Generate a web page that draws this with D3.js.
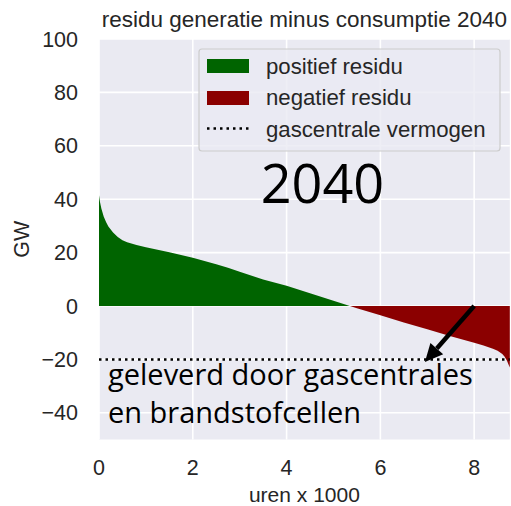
<html>
<head>
  <style>
    body { margin: 0; background: #fff; }
  </style>
</head>
<body>
<script src="https://d3js.org/d3.v7.min.js"></script>
<script>
// uren x 1000, gesorteerd residu (GW)
var hours = [0, 0.02, 0.05, 0.1, 0.15, 0.2, 0.3, 0.4, 0.5, 0.6, 0.8, 1.0, 1.5, 2.0, 2.5, 2.75, 3.0, 3.5, 4.0, 4.5, 5.0, 5.35,
             5.5, 6.0, 6.5, 7.0, 7.5, 8.0, 8.2, 8.4, 8.5, 8.6, 8.65, 8.7, 8.73, 8.76];
var residu = [41.5, 39, 36.5, 33.5, 31.5, 29.8, 27.5, 25.8, 24.6, 23.9, 22.8, 22.0, 20.1, 18.1, 15.6, 14.3, 12.8, 9.9, 7.6, 4.8, 2.0, 0,
              -0.8, -3.5, -6.2, -8.7, -11.3, -13.8, -14.8, -16.0, -16.8, -18.0, -19.0, -20.5, -21.8, -23];
var gasCapacity = -20;
var xTicks = [0, 2, 4, 6, 8];
var yTicks = [-40, -20, 0, 20, 40, 60, 80, 100];
var legendLabels = ["positief residu", "negatief residu", "gascentrale vermogen"];
var arrowFrom = [8.0, 0];
var arrowTo = [6.95, -21];

var width = 511, height = 506;
var plotLeft = 99, plotRight = 509.8, plotTop = 39, plotBottom = 439.5;
var textColor = '#262626';

var svg = d3.select('body').append('svg')
  .attr('width', width).attr('height', height)
  .style('font-family', '"Liberation Sans", Arial, sans-serif');

var x = d3.scaleLinear().domain([0, 8.76]).range([plotLeft, plotRight]);
var y = d3.scaleLinear().domain([-50, 100]).range([plotBottom, plotTop]);

// background
svg.append('rect')
  .attr('x', plotLeft).attr('y', plotTop)
  .attr('width', plotRight - plotLeft).attr('height', plotBottom - plotTop)
  .attr('fill', '#eaeaf2');

// grid
svg.selectAll('.gx').data(xTicks).enter().append('line')
  .attr('x1', d => x(d)).attr('x2', d => x(d))
  .attr('y1', plotTop).attr('y2', plotBottom)
  .attr('stroke', '#fff').attr('stroke-width', 1.6);
svg.selectAll('.gy').data(yTicks).enter().append('line')
  .attr('x1', plotLeft).attr('x2', plotRight)
  .attr('y1', d => y(d)).attr('y2', d => y(d))
  .attr('stroke', '#fff').attr('stroke-width', 1.6);

var pts = hours.map((h, i) => [h, residu[i]]);

// positive area
svg.append('path')
  .datum(pts)
  .attr('d', d3.area().x(d => x(d[0])).y0(y(0)).y1(d => y(Math.max(d[1], 0))))
  .attr('fill', '#006400');

// negative area
svg.append('path')
  .datum(pts)
  .attr('d', d3.area().x(d => x(d[0])).y0(y(0)).y1(d => y(Math.min(d[1], 0))))
  .attr('fill', '#8b0000');

// gas capacity line
svg.append('line')
  .attr('x1', x(0)).attr('x2', x(8.76))
  .attr('y1', y(gasCapacity)).attr('y2', y(gasCapacity))
  .attr('stroke', '#000').attr('stroke-width', 2.5)
  .attr('stroke-dasharray', '2.5,4');

// tick labels
svg.selectAll('.xt').data(xTicks).enter().append('text')
  .attr('x', d => x(d)).attr('y', 475)
  .attr('text-anchor', 'middle')
  .attr('font-size', 21.5).attr('fill', textColor)
  .text(d => d);
svg.selectAll('.yt').data(yTicks).enter().append('text')
  .attr('x', 78).attr('y', d => y(d) + 7.5)
  .attr('text-anchor', 'end')
  .attr('font-size', 21.5).attr('fill', textColor)
  .text(d => d < 0 ? '\u2212' + Math.abs(d) : d);

// axis labels
svg.append('text')
  .attr('x', (plotLeft + plotRight) / 2).attr('y', 501.5)
  .attr('text-anchor', 'middle')
  .attr('font-size', 21).attr('fill', textColor)
  .text('uren x 1000');
svg.append('text')
  .attr('transform', 'translate(29,' + ((plotTop + plotBottom) / 2) + ') rotate(-90)')
  .attr('text-anchor', 'middle')
  .attr('font-size', 21.5).attr('fill', textColor)
  .text('GW');

// title
svg.append('text')
  .attr('x', (plotLeft + plotRight) / 2).attr('y', 27)
  .attr('text-anchor', 'middle')
  .attr('font-size', 22.5).attr('fill', textColor)
  .text('residu generatie minus consumptie 2040');

// legend
var lg = svg.append('g');
lg.append('rect')
  .attr('x', 199).attr('y', 49).attr('width', 301).attr('height', 102)
  .attr('rx', 3)
  .attr('fill', '#eaeaf2').attr('fill-opacity', 0.8)
  .attr('stroke', '#cccccc').attr('stroke-width', 1.2);
lg.append('rect').attr('x', 207).attr('y', 59).attr('width', 42).attr('height', 14).attr('fill', '#006400');
lg.append('rect').attr('x', 207).attr('y', 91).attr('width', 42).attr('height', 14).attr('fill', '#8b0000');
lg.append('line')
  .attr('x1', 207).attr('x2', 249).attr('y1', 128.5).attr('y2', 128.5)
  .attr('stroke', '#000').attr('stroke-width', 2.5).attr('stroke-dasharray', '2.5,4');
lg.selectAll('.lt').data(legendLabels).enter().append('text')
  .attr('x', 266).attr('y', (d, i) => 73.5 + i * 31.5)
  .attr('font-size', 22.2).attr('fill', textColor)
  .text(d => d);

// annotations
svg.append('text')
  .attr('x', 322.5).attr('y', 202.5)
  .attr('text-anchor', 'middle')
  .style('font-family', '"Open Sans", sans-serif')
  .attr('font-size', 54).attr('fill', '#000')
  .text('2040');
var note = svg.append('text')
  .style('font-family', '"Open Sans", sans-serif')
  .attr('font-size', 29).attr('fill', '#000');
note.append('tspan').attr('x', 108).attr('y', 385).text('geleverd door gascentrales');
note.append('tspan').attr('x', 108).attr('y', 423).text('en brandstofcellen');

// arrow
var ax0 = x(arrowFrom[0]), ay0 = y(arrowFrom[1]);
var ax1 = x(arrowTo[0]), ay1 = y(arrowTo[1]);
var ang = Math.atan2(ay1 - ay0, ax1 - ax0);
var headLen = 18, headHalf = 8.5;
var bx = ax1 - headLen * Math.cos(ang), by = ay1 - headLen * Math.sin(ang);
svg.append('line')
  .attr('x1', ax0).attr('y1', ay0).attr('x2', bx).attr('y2', by)
  .attr('stroke', '#000').attr('stroke-width', 4.5);
svg.append('path')
  .attr('d', d3.line()([
    [ax1, ay1],
    [bx + headHalf * Math.sin(ang), by - headHalf * Math.cos(ang)],
    [bx - headHalf * Math.sin(ang), by + headHalf * Math.cos(ang)]
  ]) + 'Z')
  .attr('fill', '#000');
</script>
</body>
</html>
